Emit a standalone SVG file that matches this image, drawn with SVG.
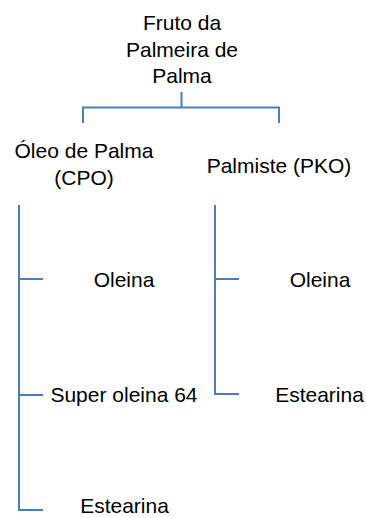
<svg xmlns="http://www.w3.org/2000/svg" width="366" height="518" viewBox="0 0 366 518">
<style>
.t{font-family:"Liberation Sans",Arial,sans-serif;font-size:21px;fill:#000;text-anchor:middle}
.c{fill:none;stroke:#4a7ebb;stroke-width:2}
</style>
<rect width="366" height="518" fill="#fff"/>
<g id="connectors">
<path class="c" d="M181.5 92V107.5M83 123V107.5H279V123"/>
<path class="c" d="M19 205V510H43M19 279H43M19 395H43"/>
<path class="c" d="M215 205V394H239M215 279H239"/>
</g>
<g id="root"><text class="t" x="182" y="30">Fruto da</text><text class="t" x="182" y="57">Palmeira de</text><text class="t" x="182" y="83">Palma</text></g>
<g id="cpo"><text class="t" x="84" y="158">Óleo de Palma</text><text class="t" x="84" y="185">(CPO)</text></g>
<g id="pko"><text class="t" x="279" y="173">Palmiste (PKO)</text></g>
<g id="cpo-oleina"><text class="t" x="124" y="287">Oleina</text></g>
<g id="cpo-super"><text class="t" x="124" y="402">Super oleina 64</text></g>
<g id="cpo-estearina"><text class="t" x="124.5" y="513">Estearina</text></g>
<g id="pko-oleina"><text class="t" x="320" y="287">Oleina</text></g>
<g id="pko-estearina"><text class="t" x="319.5" y="402">Estearina</text></g>
</svg>
